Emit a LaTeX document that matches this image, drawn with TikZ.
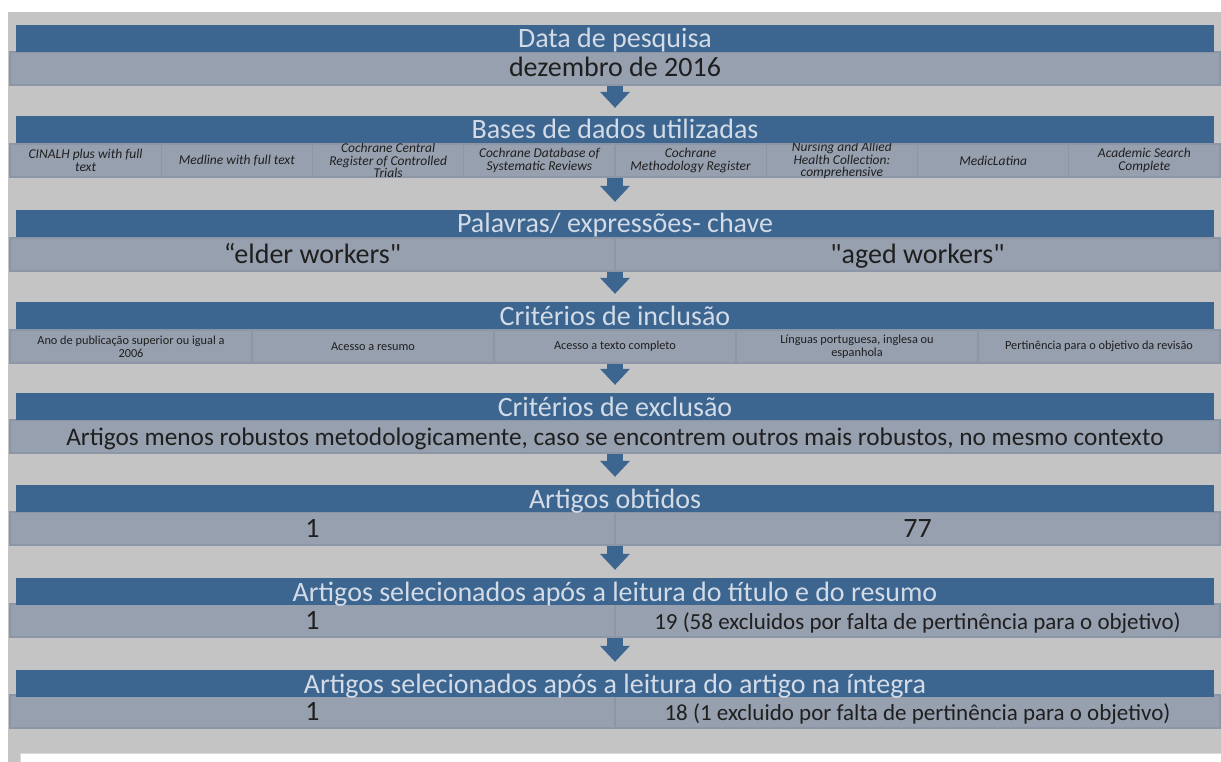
\documentclass[tikz,border=0pt]{standalone}
\usepackage{fontspec}
\setmainfont{Carlito}[Ligatures=TeXOff]
\usetikzlibrary{arrows.meta}

\definecolor{barblue}{HTML}{3C6590}
\definecolor{cellgray}{HTML}{97A0AF}
\definecolor{cellline}{HTML}{8C96A6}
\definecolor{panelgray}{HTML}{C4C4C4}
\definecolor{titletext}{HTML}{D3DBE6}

\tikzset{
  titlebar/.style={fill=barblue,text=titletext,minimum width=1198pt,minimum height=27pt,
    inner sep=0pt,text height=19pt,text depth=0pt,font=\fontsize{28}{32}\selectfont},
  cellbox/.style={fill=cellgray,draw=cellline,line width=1.2pt,minimum height=33pt,
    inner sep=0pt,text=black!88},
  bigcell/.style={cellbox,text height=17pt,text depth=0pt,font=\fontsize{28}{32}\selectfont},
  dbtext/.style={align=center,inner sep=0pt,text=black!88,font=\fontsize{13.5}{12.5}\selectfont\itshape},
  crittext/.style={align=center,inner sep=0pt,text=black!88,font=\fontsize{12.3}{13}\selectfont},
  blockarrow/.style={color=barblue,line width=16pt,
    -{Triangle[width=30pt,length=16pt,line width=0pt]},shorten >=8pt}
}

\begin{document}
\begin{tikzpicture}[x=1pt,y=-1pt]

\useasboundingbox (0,0) rectangle (1221,762);
\fill[panelgray] (8,12) rectangle (1221,762);
\filldraw[fill=white,draw=black!15] (20,753) rectangle (1225,766);

% linhas
\node[bigcell,minimum width=1210pt] (r1) at (615,68.5) {dezembro de 2016};

\foreach \txt [count=\i] in {{CINALH plus with full\\text},Medline with full text,
    {Cochrane Central\\Register of Controlled\\Trials},{Cochrane Database of\\Systematic Reviews},
    {Cochrane\\Methodology Register},{Nursing and Allied\\Health Collection:\\comprehensive},
    MedicLatina,{Academic Search\\Complete}}
  \node[cellbox,minimum width=151.25pt,label={[dbtext]center:\txt}] (r2-\i)
    at ({10+151.25*(\i-0.5)},160.5) {};

\node[bigcell,minimum width=605pt] (r3-1) at (312.5,254.5) {“elder workers"};
\node[bigcell,minimum width=605pt] (r3-2) at (917.5,254.5) {"aged workers"};

\foreach \txt [count=\i] in {{Ano de publicação superior ou igual a\\2006},Acesso a resumo,
    Acesso a texto completo,{Línguas portuguesa, inglesa ou\\espanhola},
    Pertinência para o objetivo da revisão}
  \node[cellbox,minimum width=242pt,label={[crittext]center:\txt}] (r4-\i)
    at ({10+242*(\i-0.5)},346.5) {};

\node[bigcell,minimum width=1210pt,font=\fontsize{25.3}{30}\selectfont] (r5) at (615,436.5)
  {Artigos menos robustos metodologicamente, caso se encontrem outros mais robustos, no mesmo contexto};

\node[bigcell,minimum width=605pt] (r6-1) at (312.5,528.5) {1};
\node[bigcell,minimum width=605pt] (r6-2) at (917.5,528.5) {77};

\node[bigcell,minimum width=605pt] (r7-1) at (312.5,620.5) {1};
\node[bigcell,minimum width=605pt,font=\fontsize{23}{28}\selectfont] (r7-2) at (917.5,620.5)
  {19 (58 excluidos por falta de pertinência para o objetivo)};

\node[bigcell,minimum width=605pt] (r8-1) at (312.5,711.5) {1};
\node[bigcell,minimum width=605pt,font=\fontsize{23}{28}\selectfont] (r8-2) at (917.5,711.5)
  {18 (1 excluido por falta de pertinência para o objetivo)};

% titulos
\node[titlebar] (t1) at (615,38.5) {Data de pesquisa};
\node[titlebar] (t2) at (615,129.5) {Bases de dados utilizadas};
\node[titlebar] (t3) at (615,223.5) {Palavras/ expressões- chave};
\node[titlebar] (t4) at (615,315.5) {Critérios de inclusão};
\node[titlebar] (t5) at (615,406.5) {Critérios de exclusão};
\node[titlebar] (t6) at (615,498.5) {Artigos obtidos};
\node[titlebar] (t7) at (615,591.5) {Artigos selecionados após a leitura do título e do resumo};
\node[titlebar] (t8) at (615,683.5) {Artigos selecionados após a leitura do artigo na íntegra};

% setas
\path[blockarrow] (t1 |- r1.south) edge (t2.north) (t2 |- r2-1.south) edge (t3.north)
  (t3 |- r3-1.south) edge (t4.north) (t4 |- r4-1.south) edge (t5.north)
  (t5 |- r5.south) edge (t6.north) (t6 |- r6-1.south) edge (t7.north)
  (t7 |- r7-1.south) edge (t8.north);

\end{tikzpicture}
\end{document}
